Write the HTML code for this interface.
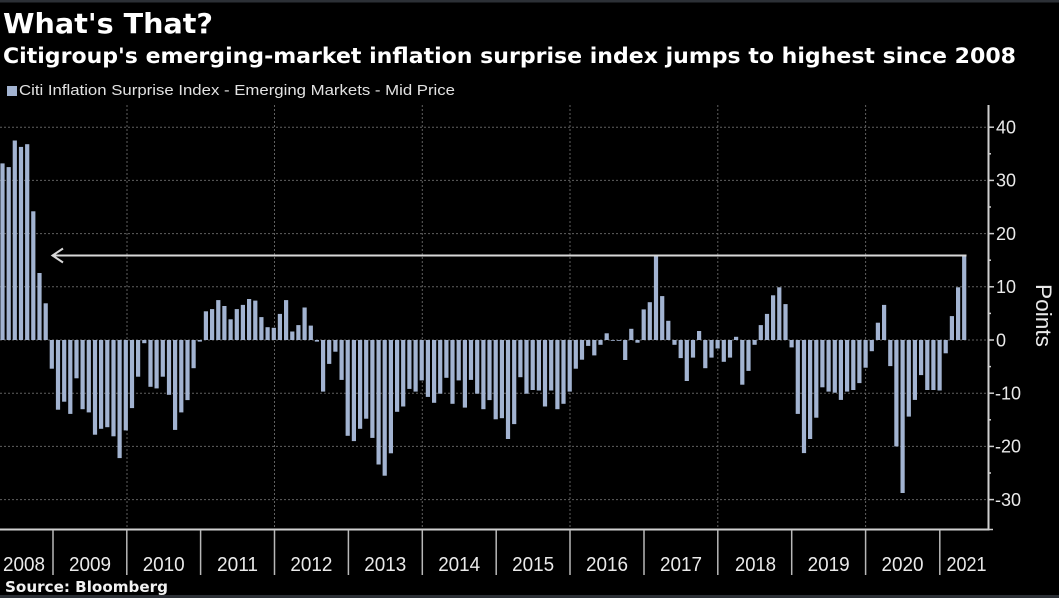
<!DOCTYPE html>
<html><head><meta charset="utf-8"><style>
html,body{margin:0;padding:0;background:#000;}
svg{display:block;}
</style></head><body>
<svg width="1059" height="598" viewBox="0 0 1059 598" xmlns="http://www.w3.org/2000/svg">
<rect x="0" y="0" width="1059" height="598" fill="#000"/>
<rect x="0" y="0" width="1059" height="2.5" fill="#2c3036"/>
<rect x="0" y="595" width="1059" height="3" fill="#2c3036"/>
<text x="3" y="33" font-family="DejaVu Sans, Liberation Sans, sans-serif" font-weight="bold" font-size="28" fill="#fff" textLength="210" lengthAdjust="spacingAndGlyphs">What's That?</text>
<text x="3" y="63" font-family="DejaVu Sans, Liberation Sans, sans-serif" font-weight="bold" font-size="21" fill="#fff" textLength="1013" lengthAdjust="spacingAndGlyphs">Citigroup's emerging-market inflation surprise index jumps to highest since 2008</text>
<rect x="7" y="86" width="10" height="10" fill="#a2b3d1"/>
<text x="19" y="95" font-family="Liberation Sans, sans-serif" font-size="15" fill="#e2e2e2" textLength="436" lengthAdjust="spacingAndGlyphs">Citi Inflation Surprise Index - Emerging Markets - Mid Price</text>
<g stroke="#606060" stroke-width="1" stroke-dasharray="2,2">
<line x1="0" y1="127.2" x2="988" y2="127.2"/>
<line x1="0" y1="180.4" x2="988" y2="180.4"/>
<line x1="0" y1="233.6" x2="988" y2="233.6"/>
<line x1="0" y1="286.8" x2="988" y2="286.8"/>
<line x1="0" y1="340" x2="988" y2="340"/>
<line x1="0" y1="393.2" x2="988" y2="393.2"/>
<line x1="0" y1="446.4" x2="988" y2="446.4"/>
<line x1="0" y1="499.6" x2="988" y2="499.6"/>
<line x1="127" y1="105" x2="127" y2="529"/>
<line x1="274.5" y1="105" x2="274.5" y2="529"/>
<line x1="422.3" y1="105" x2="422.3" y2="529"/>
<line x1="570" y1="105" x2="570" y2="529"/>
<line x1="717.8" y1="105" x2="717.8" y2="529"/>
<line x1="865.6" y1="105" x2="865.6" y2="529"/>
</g>
<g fill="#a2b3d1">
<rect x="0.4" y="163.4" width="4.2" height="176.6"/>
<rect x="6.6" y="167.1" width="4.2" height="172.9"/>
<rect x="12.7" y="140.5" width="4.2" height="199.5"/>
<rect x="18.9" y="146.9" width="4.2" height="193.1"/>
<rect x="25.1" y="144.2" width="4.2" height="195.8"/>
<rect x="31.2" y="211.3" width="4.2" height="128.7"/>
<rect x="37.4" y="273.0" width="4.2" height="67.0"/>
<rect x="43.6" y="303.3" width="4.2" height="36.7"/>
<rect x="49.7" y="340" width="4.2" height="28.7"/>
<rect x="55.9" y="340" width="4.2" height="69.7"/>
<rect x="62.1" y="340" width="4.2" height="61.7"/>
<rect x="68.2" y="340" width="4.2" height="73.9"/>
<rect x="74.4" y="340" width="4.2" height="38.3"/>
<rect x="80.5" y="340" width="4.2" height="69.2"/>
<rect x="86.7" y="340" width="4.2" height="72.4"/>
<rect x="92.9" y="340" width="4.2" height="94.7"/>
<rect x="99.0" y="340" width="4.2" height="88.8"/>
<rect x="105.2" y="340" width="4.2" height="87.2"/>
<rect x="111.4" y="340" width="4.2" height="96.3"/>
<rect x="117.5" y="340" width="4.2" height="118.1"/>
<rect x="123.7" y="340" width="4.2" height="90.4"/>
<rect x="129.9" y="340" width="4.2" height="68.1"/>
<rect x="136.0" y="340" width="4.2" height="36.7"/>
<rect x="142.2" y="340" width="4.2" height="3.2"/>
<rect x="148.4" y="340" width="4.2" height="46.8"/>
<rect x="154.5" y="340" width="4.2" height="48.4"/>
<rect x="160.7" y="340" width="4.2" height="36.7"/>
<rect x="166.9" y="340" width="4.2" height="54.8"/>
<rect x="173.0" y="340" width="4.2" height="89.9"/>
<rect x="179.2" y="340" width="4.2" height="72.4"/>
<rect x="185.4" y="340" width="4.2" height="60.1"/>
<rect x="191.5" y="340" width="4.2" height="28.2"/>
<rect x="197.7" y="340" width="4.2" height="1.6"/>
<rect x="203.8" y="311.3" width="4.2" height="28.7"/>
<rect x="210.0" y="309.1" width="4.2" height="30.9"/>
<rect x="216.2" y="300.1" width="4.2" height="39.9"/>
<rect x="222.3" y="306.0" width="4.2" height="34.0"/>
<rect x="228.5" y="319.3" width="4.2" height="20.7"/>
<rect x="234.7" y="309.1" width="4.2" height="30.9"/>
<rect x="240.8" y="304.9" width="4.2" height="35.1"/>
<rect x="247.0" y="299.0" width="4.2" height="41.0"/>
<rect x="253.2" y="300.6" width="4.2" height="39.4"/>
<rect x="259.3" y="317.1" width="4.2" height="22.9"/>
<rect x="265.5" y="327.2" width="4.2" height="12.8"/>
<rect x="271.7" y="327.8" width="4.2" height="12.2"/>
<rect x="277.8" y="313.9" width="4.2" height="26.1"/>
<rect x="284.0" y="300.1" width="4.2" height="39.9"/>
<rect x="290.2" y="331.5" width="4.2" height="8.5"/>
<rect x="296.3" y="325.1" width="4.2" height="14.9"/>
<rect x="302.5" y="307.5" width="4.2" height="32.5"/>
<rect x="308.7" y="325.6" width="4.2" height="14.4"/>
<rect x="314.8" y="340" width="4.2" height="1.6"/>
<rect x="321.0" y="340" width="4.2" height="51.6"/>
<rect x="327.1" y="340" width="4.2" height="23.9"/>
<rect x="333.3" y="340" width="4.2" height="11.7"/>
<rect x="339.5" y="340" width="4.2" height="39.9"/>
<rect x="345.6" y="340" width="4.2" height="95.8"/>
<rect x="351.8" y="340" width="4.2" height="101.1"/>
<rect x="358.0" y="340" width="4.2" height="88.8"/>
<rect x="364.1" y="340" width="4.2" height="78.7"/>
<rect x="370.3" y="340" width="4.2" height="97.9"/>
<rect x="376.5" y="340" width="4.2" height="124.5"/>
<rect x="382.6" y="340" width="4.2" height="135.7"/>
<rect x="388.8" y="340" width="4.2" height="113.3"/>
<rect x="395.0" y="340" width="4.2" height="71.8"/>
<rect x="401.1" y="340" width="4.2" height="66.5"/>
<rect x="407.3" y="340" width="4.2" height="48.9"/>
<rect x="413.5" y="340" width="4.2" height="51.6"/>
<rect x="419.6" y="340" width="4.2" height="40.4"/>
<rect x="425.8" y="340" width="4.2" height="56.9"/>
<rect x="432.0" y="340" width="4.2" height="62.8"/>
<rect x="438.1" y="340" width="4.2" height="53.7"/>
<rect x="444.3" y="340" width="4.2" height="37.8"/>
<rect x="450.4" y="340" width="4.2" height="63.8"/>
<rect x="456.6" y="340" width="4.2" height="40.4"/>
<rect x="462.8" y="340" width="4.2" height="67.6"/>
<rect x="468.9" y="340" width="4.2" height="39.9"/>
<rect x="475.1" y="340" width="4.2" height="53.7"/>
<rect x="481.3" y="340" width="4.2" height="69.2"/>
<rect x="487.4" y="340" width="4.2" height="60.1"/>
<rect x="493.6" y="340" width="4.2" height="79.3"/>
<rect x="499.8" y="340" width="4.2" height="78.2"/>
<rect x="505.9" y="340" width="4.2" height="99.0"/>
<rect x="512.1" y="340" width="4.2" height="84.1"/>
<rect x="518.3" y="340" width="4.2" height="37.2"/>
<rect x="524.4" y="340" width="4.2" height="53.7"/>
<rect x="530.6" y="340" width="4.2" height="50.0"/>
<rect x="536.8" y="340" width="4.2" height="50.5"/>
<rect x="542.9" y="340" width="4.2" height="66.5"/>
<rect x="549.1" y="340" width="4.2" height="50.5"/>
<rect x="555.3" y="340" width="4.2" height="69.2"/>
<rect x="561.4" y="340" width="4.2" height="63.8"/>
<rect x="567.6" y="340" width="4.2" height="51.6"/>
<rect x="573.7" y="340" width="4.2" height="28.7"/>
<rect x="579.9" y="340" width="4.2" height="19.7"/>
<rect x="586.1" y="340" width="4.2" height="5.9"/>
<rect x="592.2" y="340" width="4.2" height="15.4"/>
<rect x="598.4" y="340" width="4.2" height="4.8"/>
<rect x="604.6" y="333.3" width="4.2" height="6.7"/>
<rect x="610.7" y="340" width="4.2" height="0.8"/>
<rect x="616.9" y="340" width="4.2" height="0.8"/>
<rect x="623.1" y="340" width="4.2" height="20.0"/>
<rect x="629.2" y="328.8" width="4.2" height="11.2"/>
<rect x="635.4" y="340" width="4.2" height="2.7"/>
<rect x="641.6" y="309.4" width="4.2" height="30.6"/>
<rect x="647.7" y="302.2" width="4.2" height="37.8"/>
<rect x="653.9" y="255.4" width="4.2" height="84.6"/>
<rect x="660.1" y="296.1" width="4.2" height="43.9"/>
<rect x="666.2" y="320.8" width="4.2" height="19.2"/>
<rect x="672.4" y="340" width="4.2" height="4.8"/>
<rect x="678.6" y="340" width="4.2" height="18.1"/>
<rect x="684.7" y="340" width="4.2" height="41.0"/>
<rect x="690.9" y="340" width="4.2" height="17.6"/>
<rect x="697.0" y="331.0" width="4.2" height="9.0"/>
<rect x="703.2" y="340" width="4.2" height="28.2"/>
<rect x="709.4" y="340" width="4.2" height="17.6"/>
<rect x="715.5" y="340" width="4.2" height="8.5"/>
<rect x="721.7" y="340" width="4.2" height="21.8"/>
<rect x="727.9" y="340" width="4.2" height="17.6"/>
<rect x="734.0" y="336.8" width="4.2" height="3.2"/>
<rect x="740.2" y="340" width="4.2" height="44.7"/>
<rect x="746.4" y="340" width="4.2" height="30.9"/>
<rect x="752.5" y="340" width="4.2" height="4.8"/>
<rect x="758.7" y="325.1" width="4.2" height="14.9"/>
<rect x="764.9" y="313.9" width="4.2" height="26.1"/>
<rect x="771.0" y="295.3" width="4.2" height="44.7"/>
<rect x="777.2" y="287.3" width="4.2" height="52.7"/>
<rect x="783.4" y="304.1" width="4.2" height="35.9"/>
<rect x="789.5" y="340" width="4.2" height="7.4"/>
<rect x="795.7" y="340" width="4.2" height="73.9"/>
<rect x="801.9" y="340" width="4.2" height="113.1"/>
<rect x="808.0" y="340" width="4.2" height="99.0"/>
<rect x="814.2" y="340" width="4.2" height="77.7"/>
<rect x="820.3" y="340" width="4.2" height="47.3"/>
<rect x="826.5" y="340" width="4.2" height="51.6"/>
<rect x="832.7" y="340" width="4.2" height="52.7"/>
<rect x="838.8" y="340" width="4.2" height="59.9"/>
<rect x="845.0" y="340" width="4.2" height="51.6"/>
<rect x="851.2" y="340" width="4.2" height="50.0"/>
<rect x="857.3" y="340" width="4.2" height="43.1"/>
<rect x="863.5" y="340" width="4.2" height="27.7"/>
<rect x="869.7" y="340" width="4.2" height="11.2"/>
<rect x="875.8" y="322.7" width="4.2" height="17.3"/>
<rect x="882.0" y="304.9" width="4.2" height="35.1"/>
<rect x="888.2" y="340" width="4.2" height="26.1"/>
<rect x="894.3" y="340" width="4.2" height="106.4"/>
<rect x="900.5" y="340" width="4.2" height="153.0"/>
<rect x="906.7" y="340" width="4.2" height="76.6"/>
<rect x="912.8" y="340" width="4.2" height="59.9"/>
<rect x="919.0" y="340" width="4.2" height="35.1"/>
<rect x="925.2" y="340" width="4.2" height="50.0"/>
<rect x="931.3" y="340" width="4.2" height="50.0"/>
<rect x="937.5" y="340" width="4.2" height="50.5"/>
<rect x="943.6" y="340" width="4.2" height="13.3"/>
<rect x="949.8" y="316.1" width="4.2" height="23.9"/>
<rect x="956.0" y="287.3" width="4.2" height="52.7"/>
<rect x="962.1" y="255.4" width="4.2" height="84.6"/>
</g>
<line x1="52" y1="255.5" x2="966.5" y2="255.5" stroke="#d8d8d8" stroke-width="2"/>
<polyline points="63,248.5 52.5,255.5 63,262.5" fill="none" stroke="#d8d8d8" stroke-width="2"/>
<line x1="988.5" y1="105" x2="988.5" y2="530" stroke="#cfcfcf" stroke-width="2"/>
<line x1="0" y1="529.5" x2="989.5" y2="529.5" stroke="#cfcfcf" stroke-width="2"/>
<g stroke="#cfcfcf" stroke-width="1.5">
<line x1="988" y1="127.2" x2="994" y2="127.2"/>
<line x1="988" y1="180.4" x2="994" y2="180.4"/>
<line x1="988" y1="233.6" x2="994" y2="233.6"/>
<line x1="988" y1="286.8" x2="994" y2="286.8"/>
<line x1="988" y1="340" x2="994" y2="340"/>
<line x1="988" y1="393.2" x2="994" y2="393.2"/>
<line x1="988" y1="446.4" x2="994" y2="446.4"/>
<line x1="988" y1="499.6" x2="994" y2="499.6"/>
<line x1="988" y1="529.5" x2="993" y2="529.5"/>
<line x1="988" y1="153.8" x2="991" y2="153.8"/>
<line x1="988" y1="207" x2="991" y2="207"/>
<line x1="988" y1="260.2" x2="991" y2="260.2"/>
<line x1="988" y1="313.4" x2="991" y2="313.4"/>
<line x1="988" y1="366.6" x2="991" y2="366.6"/>
<line x1="988" y1="419.8" x2="991" y2="419.8"/>
<line x1="988" y1="473" x2="991" y2="473"/>
</g>
<g stroke="#b8b8b8" stroke-width="1.5">
<line x1="53" y1="530" x2="53" y2="575"/>
<line x1="126.8" y1="530" x2="126.8" y2="575"/>
<line x1="200.6" y1="530" x2="200.6" y2="575"/>
<line x1="274.5" y1="530" x2="274.5" y2="575"/>
<line x1="348.4" y1="530" x2="348.4" y2="575"/>
<line x1="422.3" y1="530" x2="422.3" y2="575"/>
<line x1="496.2" y1="530" x2="496.2" y2="575"/>
<line x1="570" y1="530" x2="570" y2="575"/>
<line x1="644" y1="530" x2="644" y2="575"/>
<line x1="717.8" y1="530" x2="717.8" y2="575"/>
<line x1="791.7" y1="530" x2="791.7" y2="575"/>
<line x1="865.6" y1="530" x2="865.6" y2="575"/>
<line x1="939.8" y1="530" x2="939.8" y2="575"/>
</g>
<g font-family="Liberation Sans, sans-serif" font-size="18" fill="#eaeaea">
<text x="996" y="133.5">40</text>
<text x="996" y="186.7">30</text>
<text x="996" y="239.9">20</text>
<text x="996" y="293.1">10</text>
<text x="996" y="346.3">0</text>
<text x="995" y="399.5">-10</text>
<text x="995" y="452.7">-20</text>
<text x="995" y="505.9">-30</text>
</g>
<text x="0" y="0" transform="translate(1036,284) rotate(90)" font-family="Liberation Sans, sans-serif" font-size="22" fill="#eaeaea" textLength="63" lengthAdjust="spacingAndGlyphs">Points</text>
<g font-family="Liberation Sans, sans-serif" font-size="20" fill="#eaeaea" text-anchor="middle">
<text x="24" y="571" textLength="42" lengthAdjust="spacingAndGlyphs">2008</text>
<text x="90" y="571" textLength="42" lengthAdjust="spacingAndGlyphs">2009</text>
<text x="163.7" y="571" textLength="42" lengthAdjust="spacingAndGlyphs">2010</text>
<text x="237.5" y="571" textLength="41" lengthAdjust="spacingAndGlyphs">2011</text>
<text x="311.4" y="571" textLength="42" lengthAdjust="spacingAndGlyphs">2012</text>
<text x="385.3" y="571" textLength="42" lengthAdjust="spacingAndGlyphs">2013</text>
<text x="459.2" y="571" textLength="42" lengthAdjust="spacingAndGlyphs">2014</text>
<text x="533.1" y="571" textLength="42" lengthAdjust="spacingAndGlyphs">2015</text>
<text x="607" y="571" textLength="42" lengthAdjust="spacingAndGlyphs">2016</text>
<text x="681" y="571" textLength="42" lengthAdjust="spacingAndGlyphs">2017</text>
<text x="755.5" y="571" textLength="41" lengthAdjust="spacingAndGlyphs">2018</text>
<text x="828.6" y="571" textLength="42" lengthAdjust="spacingAndGlyphs">2019</text>
<text x="902.5" y="571" textLength="42" lengthAdjust="spacingAndGlyphs">2020</text>
<text x="966.5" y="571" textLength="40" lengthAdjust="spacingAndGlyphs">2021</text>
</g>
<text x="5" y="592" font-family="DejaVu Sans, Liberation Sans, sans-serif" font-weight="bold" font-size="15" fill="#f2f2f2" textLength="163" lengthAdjust="spacingAndGlyphs">Source: Bloomberg</text>
</svg>
</body></html>
